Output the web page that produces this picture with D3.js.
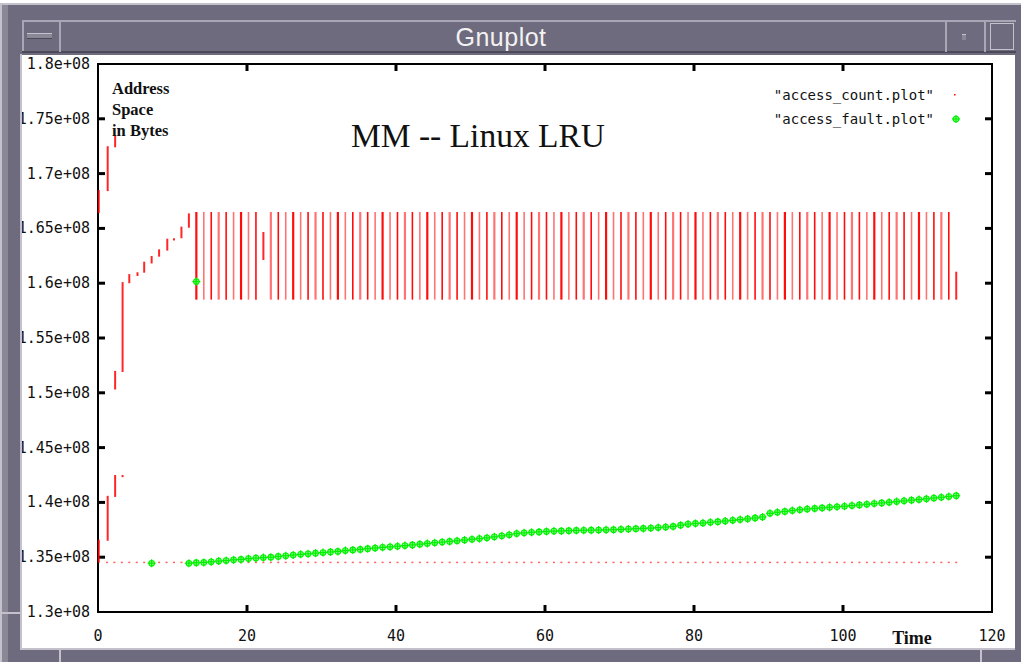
<!DOCTYPE html>
<html>
<head>
<meta charset="utf-8">
<script src="https://cdn.jsdelivr.net/npm/d3@7"></script>
<style>
html, body { margin: 0; padding: 0; background: #fff; }
svg { display: block; }
</style>
</head>
<body>
<div id="chart"></div>
<script>
// values are in units of 1e8 bytes, time in seconds

// access_count.plot : the start-up sweeps, one segment per entry
const countTime = [0.1, 0.1, 1.3, 1.3, 2.3, 2.3, 2.3, 3.3, 3.3, 4.2, 5.3, 6.2, 7.2, 8.2, 9.3, 10.2, 11.2, 12.2, 22.2, 115.2];
const countLow  = [1.664, 1.345, 1.684, 1.365, 1.724, 1.503, 1.405, 1.519, 1.423, 1.600, 1.6066, 1.6096, 1.618, 1.6242, 1.6297, 1.639, 1.641, 1.6506, 1.6212, 1.585];
const countHigh = [1.685, 1.366, 1.725, 1.406, 1.735, 1.520, 1.425, 1.601, 1.425, 1.6083, 1.610, 1.6196, 1.6248, 1.6309, 1.6406, 1.641, 1.6516, 1.6637, 1.6467, 1.6105];

// the steady band, one full sweep per second from t=13 to t=114 (t=22 is short, above)
const bandTime = d3.range(13.2, 114.3, 1).filter(t => Math.abs(t - 22.2) > 0.01);
const bandLow = 1.585, bandHigh = 1.665;

// the dotted floor of access_count
const floorTime = d3.range(1.2, 115.3, 1);
const floorValue = 1.345;

// access_fault.plot
const faultExtraTime  = [7.2, 13.2];
const faultExtraValue = [1.3445, 1.6015];
const faultTime = d3.range(12.2, 115.3, 1);
const faultValue = [
    1.3445, 1.3450, 1.3452, 1.3458, 1.3465, 1.3470, 1.3476, 1.3480, 1.3487, 1.3492,
    1.3497, 1.3500, 1.3507, 1.3513, 1.3520, 1.3526, 1.3531, 1.3537, 1.3542, 1.3548,
    1.3553, 1.3560, 1.3566, 1.3571, 1.3578, 1.3584, 1.3590, 1.3595, 1.3600, 1.3606,
    1.3612, 1.3619, 1.3625, 1.3632, 1.3638, 1.3644, 1.3650, 1.3657, 1.3664, 1.3670,
    1.3677, 1.3686, 1.3695, 1.3705, 1.3716, 1.3722, 1.3727, 1.3731, 1.3735, 1.3738,
    1.3740, 1.3742, 1.3744, 1.3746, 1.3747, 1.3748, 1.3750, 1.3751, 1.3754, 1.3757,
    1.3760, 1.3763, 1.3766, 1.3770, 1.3775, 1.3781, 1.3792, 1.3802, 1.3808, 1.3812,
    1.3818, 1.3824, 1.3830, 1.3836, 1.3843, 1.3850, 1.3858, 1.3867, 1.3900, 1.3910,
    1.3918, 1.3926, 1.3933, 1.3940, 1.3945, 1.3950, 1.3955, 1.3960, 1.3965, 1.3971,
    1.3977, 1.3983, 1.3989, 1.3995, 1.4001, 1.4008, 1.4014, 1.4020, 1.4026, 1.4033,
    1.4040, 1.4047, 1.4054, 1.4061
];

const xTicks = [0, 20, 40, 60, 80, 100, 120];
const yTicks = [1.3, 1.35, 1.4, 1.45, 1.5, 1.55, 1.6, 1.65, 1.7, 1.75, 1.8];
const yTickLabels = ["1.3e+08", "1.35e+08", "1.4e+08", "1.45e+08", "1.5e+08", "1.55e+08",
                     "1.6e+08", "1.65e+08", "1.7e+08", "1.75e+08", "1.8e+08"];
const legendNames = ['"access_count.plot"', '"access_fault.plot"'];
const yLabelLines = ["Address", "Space", "in Bytes"];

const width = 1021, height = 662,
    red = "#ff0000",
    green = "#00f000",
    frameDark = "#6f6b7e",
    frameMid = "#8a8797",
    frameLight = "#c4c1cd",
    mono = "'DejaVu Sans Mono', monospace",
    serif = "'Liberation Serif', 'DejaVu Serif', serif";

const x = d3.scaleLinear().domain([0, 120]).range([98, 992]);
const y = d3.scaleLinear().domain([1.3, 1.8]).range([612, 64]);

const svg = d3.select('#chart').append('svg')
    .attr('width', width)
    .attr('height', height);

// white client area
svg.append('rect').attr('x', 0).attr('y', 0).attr('width', width).attr('height', height).attr('fill', '#fff');

const plot = svg.append('g');

// tick labels
plot.append('g').selectAll('text')
    .data(yTicks)
    .enter().append('text')
    .attr('x', 90)
    .attr('y', d => y(d) + 5)
    .attr('text-anchor', 'end')
    .attr('font-family', mono)
    .attr('font-size', 15)
    .attr('fill', '#111')
    .text((d, i) => yTickLabels[i]);

plot.append('g').selectAll('text')
    .data(xTicks)
    .enter().append('text')
    .attr('x', d => x(d))
    .attr('y', 641)
    .attr('text-anchor', 'middle')
    .attr('font-family', mono)
    .attr('font-size', 15)
    .attr('fill', '#111')
    .text(d => d);

// border
plot.append('rect')
    .attr('x', x(0)).attr('y', y(1.8))
    .attr('width', x(120) - x(0)).attr('height', y(1.3) - y(1.8))
    .attr('fill', 'none').attr('stroke', '#000').attr('stroke-width', 2);

// mirrored ticks, pointing inward
const tickLen = 7;
yTicks.slice(1, -1).forEach(v => {
    plot.append('line').attr('x1', x(0)).attr('x2', x(0) + tickLen)
        .attr('y1', y(v)).attr('y2', y(v)).attr('stroke', '#000').attr('stroke-width', 3);
    plot.append('line').attr('x1', x(120)).attr('x2', x(120) - tickLen)
        .attr('y1', y(v)).attr('y2', y(v)).attr('stroke', '#000').attr('stroke-width', 3);
});
xTicks.slice(1, -1).forEach(v => {
    plot.append('line').attr('x1', x(v)).attr('x2', x(v))
        .attr('y1', y(1.3)).attr('y2', y(1.3) - tickLen).attr('stroke', '#000').attr('stroke-width', 3);
    plot.append('line').attr('x1', x(v)).attr('x2', x(v))
        .attr('y1', y(1.8)).attr('y2', y(1.8) + tickLen).attr('stroke', '#000').attr('stroke-width', 3);
});

// access_count: dotted floor
plot.append('g').selectAll('rect')
    .data(floorTime)
    .enter().append('rect')
    .attr('x', d => x(d) - 1)
    .attr('y', y(floorValue) - 1)
    .attr('width', 2).attr('height', 1.5)
    .attr('fill', '#ff6060');

// access_count: steady band sweeps
plot.append('g').selectAll('line')
    .data(bandTime)
    .enter().append('line')
    .attr('x1', d => x(d)).attr('x2', d => x(d))
    .attr('y1', y(bandHigh)).attr('y2', y(bandLow))
    .attr('stroke', red)
    .attr('stroke-opacity', (d, i) => i % 2 ? 0.55 : 0.95)
    .attr('stroke-width', (d, i) => i % 3 === 0 ? 2.2 : 1.6);

// access_count: start-up segments
plot.append('g').selectAll('line')
    .data(countTime)
    .enter().append('line')
    .attr('x1', d => x(d)).attr('x2', d => x(d))
    .attr('y1', (d, i) => y(countHigh[i]))
    .attr('y2', (d, i) => Math.max(y(countLow[i]), y(countHigh[i]) + 1.5))
    .attr('stroke', red)
    .attr('stroke-opacity', 0.85)
    .attr('stroke-width', 2);

// access_fault markers
const marker = (g, cx, cy) => {
    g.append('circle').attr('cx', cx).attr('cy', cy).attr('r', 2.8)
        .attr('fill', '#5cff5c').attr('fill-opacity', 0.7)
        .attr('stroke', green).attr('stroke-width', 1.1);
    g.append('line').attr('x1', cx - 4).attr('x2', cx + 4).attr('y1', cy).attr('y2', cy)
        .attr('stroke', green).attr('stroke-width', 1.2);
    g.append('line').attr('x1', cx).attr('x2', cx).attr('y1', cy - 4).attr('y2', cy + 4)
        .attr('stroke', green).attr('stroke-width', 1.2);
};
const faults = plot.append('g');
faultTime.forEach((t, i) => marker(faults, x(t), y(faultValue[i])));
faultExtraTime.forEach((t, i) => marker(faults, x(t), y(faultExtraValue[i])));

// texts inside the plot
plot.append('text')
    .attr('x', 478).attr('y', 147)
    .attr('text-anchor', 'middle')
    .attr('font-family', serif)
    .attr('font-size', 33.5)
    .attr('fill', '#111')
    .text('MM -- Linux LRU');

plot.append('g').selectAll('text')
    .data(yLabelLines)
    .enter().append('text')
    .attr('x', 112)
    .attr('y', (d, i) => 94 + i * 21)
    .attr('font-family', serif)
    .attr('font-weight', 'bold')
    .attr('font-size', 16.5)
    .attr('fill', '#111')
    .text(d => d);

plot.append('text')
    .attr('x', 912).attr('y', 644)
    .attr('text-anchor', 'middle')
    .attr('font-family', serif)
    .attr('font-weight', 'bold')
    .attr('font-size', 18)
    .attr('fill', '#111')
    .text('Time');

// legend
plot.append('g').selectAll('text')
    .data(legendNames)
    .enter().append('text')
    .attr('x', 934)
    .attr('y', (d, i) => 100 + i * 24)
    .attr('text-anchor', 'end')
    .attr('font-family', mono)
    .attr('font-size', 14)
    .attr('fill', '#111')
    .text(d => d);
plot.append('rect').attr('x', 954).attr('y', 94).attr('width', 1.5).attr('height', 1.5).attr('fill', red);
marker(plot.append('g'), 956, 119);

// window frame drawn on top
const frame = svg.append('g');
const band = (fx, fy, fw, fh, fill) => frame.append('rect')
    .attr('x', fx).attr('y', fy).attr('width', fw).attr('height', fh).attr('fill', fill);

band(0, 3, width, 52, frameDark);          // top
band(0, 3, 22, height - 3, frameDark);     // left
band(1015, 3, 6, height - 3, frameDark);   // right
band(0, 648, width, 14, frameDark);        // bottom
band(0, 3, 8, height - 3, frameMid);
band(0, 3, width, 2, frameLight);
band(0, 3, 2, height - 3, frameLight);
band(20, 648, 995, 2, frameLight);
band(20, 54, 2, 596, frameLight);

// title bar
band(22, 20, 994, 2, '#a9a6b5');
band(22, 20, 2, 32, '#a9a6b5');
band(22, 51, 994, 2, '#4c4958');
band(59, 20, 2, 32, '#a9a6b5');
band(945, 20, 2, 32, '#a9a6b5');
band(984, 20, 2, 32, '#a9a6b5');
band(0, 612, 20, 2, frameLight);
band(59, 650, 2, 12, frameLight);
band(980, 650, 2, 12, frameLight);

// window buttons
band(27, 33, 25, 6, frameMid);
band(27, 33, 25, 1, frameLight);
band(27, 38, 25, 1, '#4c4958');
band(962, 34, 4, 6, frameMid);
band(962, 34, 4, 1, frameLight);
frame.append('rect').attr('x', 990.5).attr('y', 23.5).attr('width', 23).attr('height', 26)
    .attr('fill', 'none').attr('stroke', frameLight).attr('stroke-width', 1);

frame.append('text')
    .attr('x', 501).attr('y', 46)
    .attr('text-anchor', 'middle')
    .attr('font-family', "'Liberation Sans Narrow', 'Liberation Sans', sans-serif")
    .attr('font-size', 25)
    .attr('letter-spacing', 0.5)
    .attr('fill', '#f2f2f2')
    .text('Gnuplot');
</script>
</body>
</html>
